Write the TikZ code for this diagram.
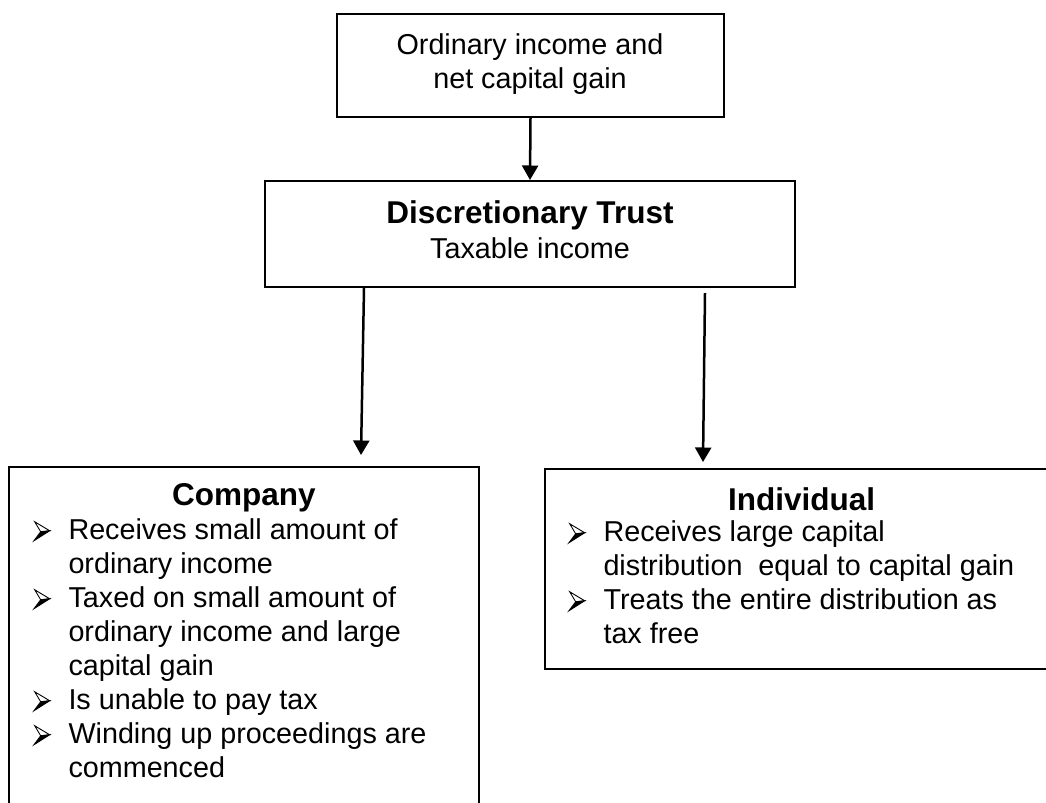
\documentclass[tikz,border=0pt]{standalone}
\usepackage{fontspec}
\setmainfont{Liberation Sans}
\usetikzlibrary{arrows.meta,calc}

% arrowhead bullet, as in the word-processor lists
\newcommand{\arrowbullet}{\tikz[x=1pt,y=1pt,baseline=0pt,line width=0.35pt]{%
  \filldraw[fill=white] (0.3,6.9) -- (6.3,3.3) -- (2.7,2.9) -- cycle;
  \filldraw (2.7,2.9) -- (6.3,3.3) -- (0,-0.7) -- cycle;}}
\newcommand{\bulitem}{\makebox[14pt][l]{\arrowbullet}}
\newcommand{\contline}{\hspace*{14pt}}

\begin{document}
\begin{tikzpicture}[x=0.4pt,y=-0.4pt,
  box/.style={draw,line width=0.8pt},
  arr/.style={line width=1pt,-{Triangle[width=6.4pt,length=5.8pt]}},
  body/.style={font=\fontsize{11.5}{13.6}\selectfont},
  head/.style={font=\fontsize{12.6}{15}\selectfont\bfseries}]
\tikzstyle{every node}+=[inner sep=0pt]
\clip (0,0) rectangle (1046,802);
% boxes
\node[box,minimum width=387*0.4pt,minimum height=103*0.4pt] (src) at (530.5,65.5) {};
\node[box,minimum width=530*0.4pt,minimum height=106*0.4pt] (trust) at (530,234) {};
\node[box,minimum width=470*0.4pt,minimum height=363*0.4pt] (comp) at (244,648.5) {};
\node[box,minimum width=515*0.4pt,minimum height=200*0.4pt] (indiv) at (802.5,569) {};
% texts (base = last line)
\node[body,align=center,anchor=base] (srctxt) at (530,88) {Ordinary income and\\net capital gain};
\node[font=\fontsize{11.5}{14}\selectfont,align=center,anchor=base] (trusttxt) at (530,258)
  {{\fontsize{12.6}{14}\selectfont\bfseries Discretionary Trust}\\Taxable income};
\node[head,anchor=base] (comphead) at (244,505) {Company};
\node[body,align=left,anchor=base west] (complist) at (33,777)
  {\bulitem Receives small amount of\\
   \contline ordinary income\\
   \bulitem Taxed on small amount of\\
   \contline ordinary income and large\\
   \contline capital gain\\
   \bulitem Is unable to pay tax\\
   \bulitem Winding up proceedings are\\
   \contline commenced};
\node[head,anchor=base] (indivhead) at (801.5,510) {Individual};
\node[body,align=left,anchor=base west] (indivlist) at (568,643)
  {\bulitem Receives large capital\\
   \contline distribution~ equal to capital gain\\
   \bulitem Treats the entire distribution as\\
   \contline tax free};
% arrows
\draw[arr] (src.south) -- (trust.north);
\draw[arr] ($(trust.south)+(-166,0)$) -- ($(comp.north)+(117,-11)$);
\draw[arr] ($(trust.south)+(175,5)$) -- ($(indiv.north)+(-99.5,-6)$);
\end{tikzpicture}
\end{document}
